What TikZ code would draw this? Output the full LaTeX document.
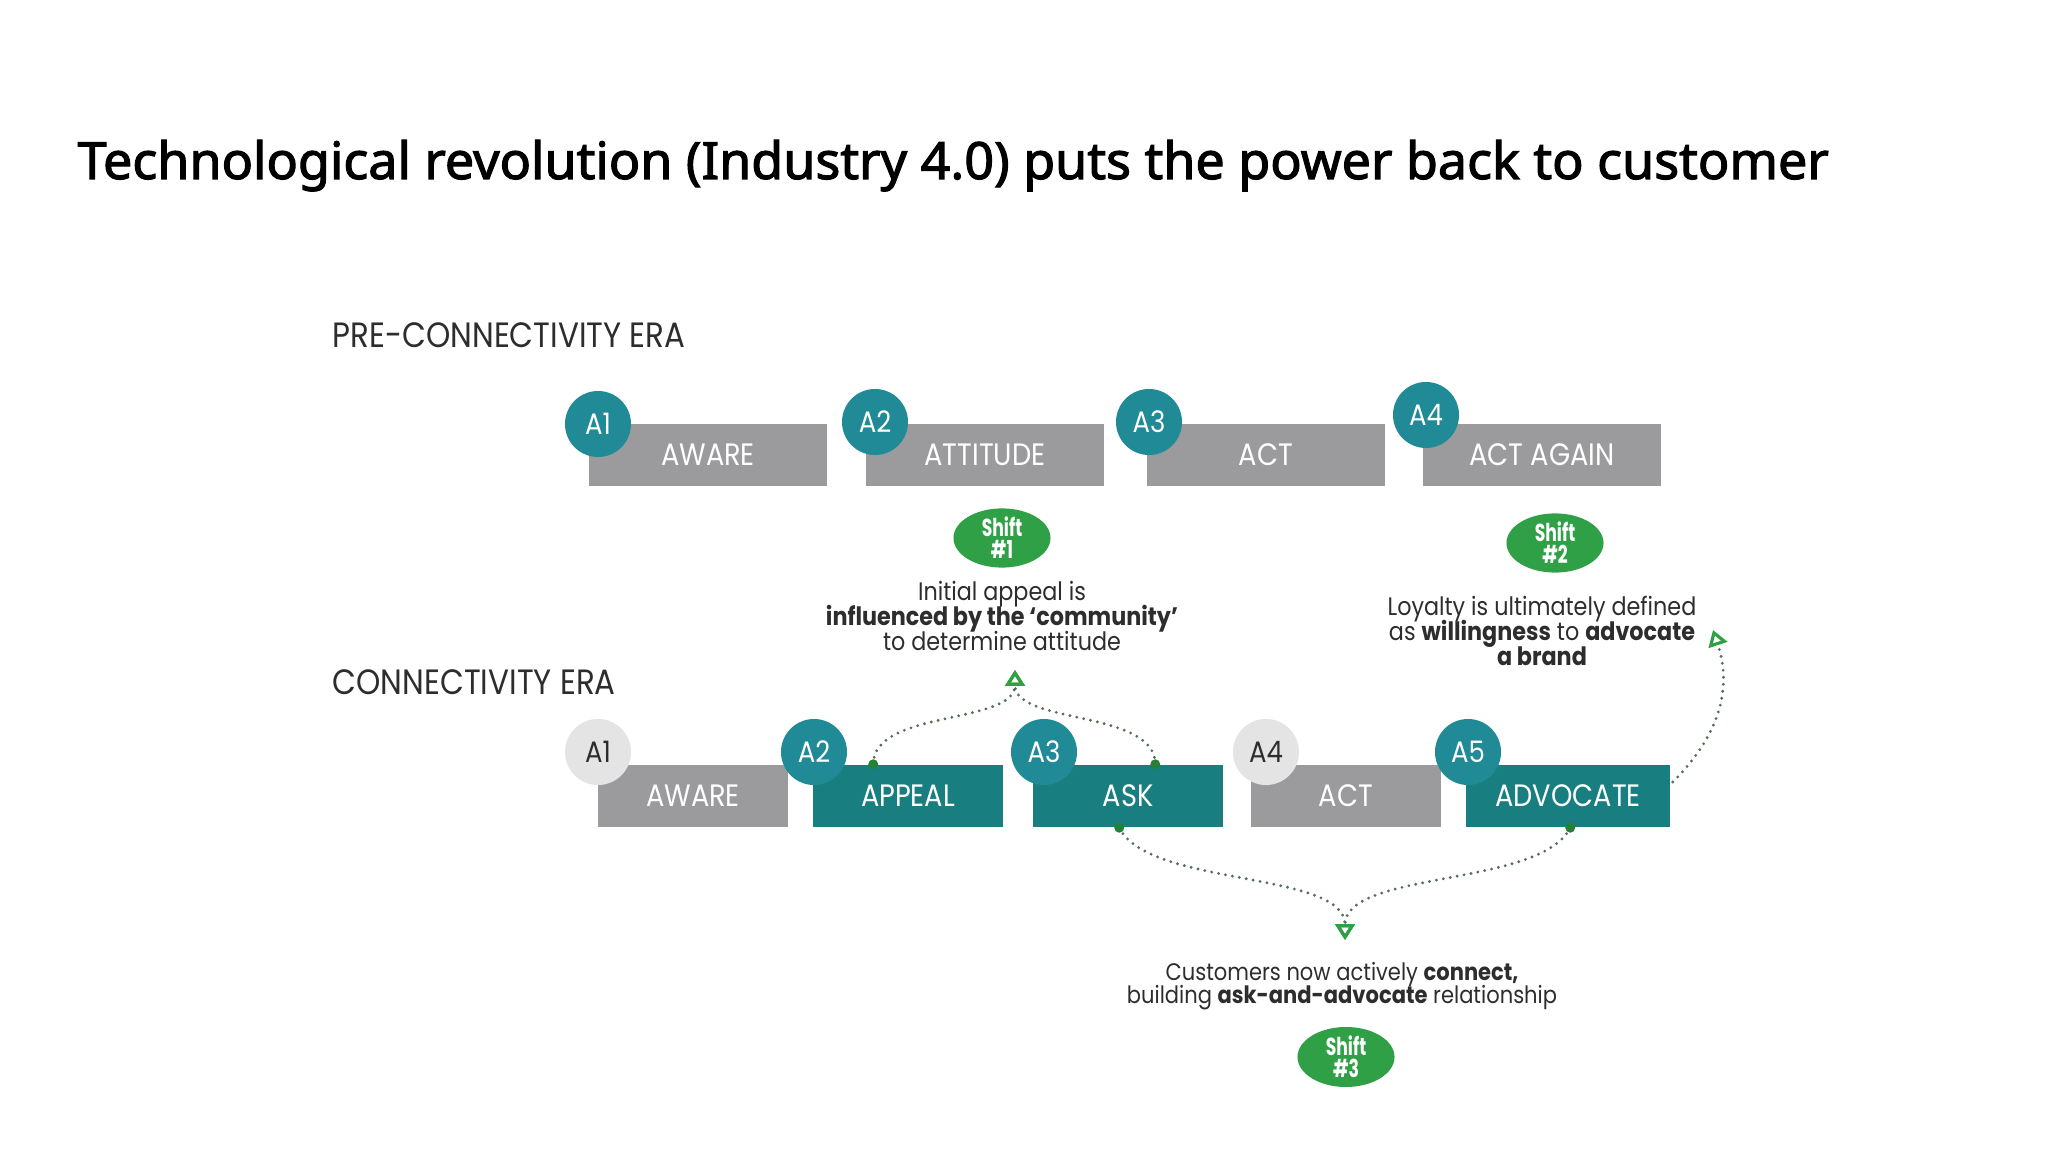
\documentclass[tikz,border=0pt]{standalone}
\usepackage{fontspec}
\setmainfont{Noto Sans}
\newfontfamily\titlefont[FakeStretch=1.013, FakeBold=2.2]{Noto Sans}
\newfontfamily\futfont[FakeStretch=0.88]{Poppins}
\newfontfamily\shiftfont[FakeStretch=0.7]{Poppins}
\newcommand\tightlines{\lineskiplimit=-20pt\relax}
\usetikzlibrary{shapes.geometric,arrows.meta,positioning,calc}
\definecolor{boxgrey}{RGB}{155,155,157}
\definecolor{boxteal}{RGB}{24,126,128}
\definecolor{circteal}{RGB}{32,139,150}
\definecolor{circlight}{RGB}{228,228,228}
\definecolor{shiftgreen}{RGB}{48,160,70}
\definecolor{dotgrey}{RGB}{85,110,90}
\definecolor{textdark}{RGB}{45,45,45}

\begin{document}
\begin{tikzpicture}[x=0.01cm, y=-0.01cm,
    stagebox/.style={rectangle, fill=boxgrey, minimum width=2.37cm, minimum height=0.62cm,
        inner sep=0pt, text=white, font=\futfont\fontsize{8.8}{9}\selectfont},
    oldbox/.style={stagebox, minimum width=1.9cm},
    newbox/.style={stagebox, fill=boxteal, minimum width=1.9cm},
    acirc/.style={circle, fill=circteal, minimum size=0.66cm, inner sep=0pt,
        text=white, font=\futfont\fontsize{8.4}{9}\selectfont},
    lightcirc/.style={acirc, fill=circlight, text=textdark},
    shiftnode/.style={ellipse, fill=shiftgreen, minimum width=0.97cm, minimum height=0.54cm,
        inner sep=0pt, align=center, text=white,
        font=\shiftfont\bfseries\fontsize{7}{6.3}\selectfont\tightlines},
    note/.style={align=center, text=textdark,
        font=\futfont\fontsize{7.2}{7.1}\selectfont\tightlines},
    era/.style={anchor=base west, inner sep=0pt, text=textdark, font=\futfont\fontsize{10}{11}\selectfont},
    dotline/.style={dotgrey, line width=0.9pt, dash pattern=on 0pt off 2pt, line cap=round},
    startdot/.style={circle, fill=shiftgreen!80!black, inner sep=0pt, minimum size=0.1cm},
    >={Triangle[open, length=4.5pt, width=5.5pt, color=shiftgreen]}
]
\useasboundingbox (0,0) rectangle (2048,1152);

\node[anchor=base west, inner sep=0pt, font=\titlefont\fontsize{14.6}{17}\selectfont] (title) at (77,179)
    {Technological revolution (Industry 4.0) puts the power back to customer};

% pre-connectivity era
\node[era] (preera) at (332,348) {PRE-CONNECTIVITY ERA};
\node[stagebox] (aware) at (708,455) {AWARE};
\node[stagebox] (attitude) at (985,455) {ATTITUDE};
\node[stagebox] (act) at (1266,455) {ACT};
\node[stagebox] (actagain) at (1542,455) {ACT AGAIN};
\node[acirc] (pa1) at (598,424) {A1};
\node[acirc] (pa2) at (875,422) {A2};
\node[acirc] (pa3) at (1149,422) {A3};
\node[acirc] (pa4) at (1426,415) {A4};

% connectivity era
\node[era] (conera) at (332,695) {CONNECTIVITY ERA};
\node[oldbox] (aware2) at (693,796) {AWARE};
\node[newbox] (appeal) at (908,796) {APPEAL};
\node[newbox] (ask) at (1128,796) {ASK};
\node[oldbox] (act2) at (1346,796) {ACT};
\node[newbox, minimum width=2.04cm] (advocate) at (1568,796) {ADVOCATE};
\node[lightcirc] (ca1) at (598,752) {A1};
\node[acirc] (ca2) at (814,752) {A2};
\node[acirc] (ca3) at (1044,752) {A3};
\node[lightcirc] (ca4) at (1266,752) {A4};
\node[acirc] (ca5) at (1468,752) {A5};

% shifts
\node[shiftnode] (shift1) at (1002,538) {Shift\\\#1};
\node[note] (note1) at (1002,616) {Initial appeal is\\\textbf{influenced by the ‘community’}\\to determine attitude};
\node[shiftnode] (shift2) at (1555,543) {Shift\\\#2};
\node[note] (note2) at (1542,631) {Loyalty is ultimately defined\\as \textbf{willingness} to \textbf{advocate}\\\textbf{a brand}};
\node[note, font=\futfont\fontsize{6.8}{6.7}\selectfont\tightlines] (note3) at (1342,986)
    {Customers now actively \textbf{connect,}\\building \textbf{ask-and-advocate} relationship};
\node[shiftnode, minimum height=0.6cm] (shift3) at (1346,1057) {Shift\\\#3};

\coordinate (s1) at ($(appeal.north west)+(61,0)$);
\coordinate (s2) at ($(ask.north west)+(123,0)$);
\coordinate (t1) at (1015,670);
\coordinate (s3) at ($(ask.south west)+(87,0)$);
\coordinate (s4) at ($(advocate.south west)+(105,0)$);
\coordinate (t2) at (1345,940);
\coordinate (s5) at ($(advocate.east)+(2,-14)$);
\coordinate (t3) at (1713,630);

\draw[dotline,->] (s1) .. controls +(0,-55) and +(0,55) .. (t1);
\draw[dotline,->] (s2) .. controls +(0,-55) and +(0,55) .. (t1);
\draw[dotline,->] (s3) .. controls +(30,60) and +(0,-70) .. (t2);
\draw[dotline,->] (s4) .. controls +(-30,60) and +(0,-70) .. (t2);
\draw[dotline,->] (s5) .. controls +(45,-45) and +(20,60) .. (t3);
\node[startdot] (d1) at (s1) {};
\node[startdot] (d2) at (s2) {};
\node[startdot] (d3) at (s3) {};
\node[startdot] (d4) at (s4) {};
\end{tikzpicture}
\end{document}
